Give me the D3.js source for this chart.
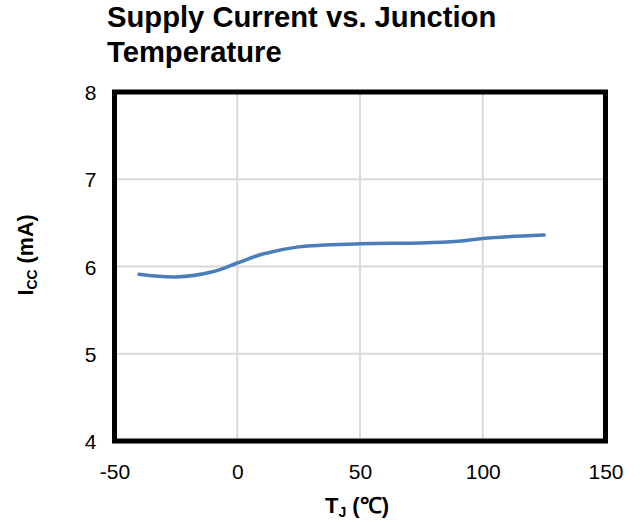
<!DOCTYPE html>
<html>
<head>
<meta charset="utf-8">
<script src="https://cdn.jsdelivr.net/npm/d3@7/dist/d3.min.js"></script>
<style>
  html, body { margin: 0; padding: 0; background: #fff; }
  text { font-family: "Liberation Sans", Arial, sans-serif; fill: #000; }
</style>
</head>
<body>
<svg id="chart" width="640" height="522"></svg>
<script>
const temps = [-40, -25, -10, 0, 10, 25, 50, 75, 90, 100, 110, 125];
const icc   = [5.91, 5.88, 5.94, 6.04, 6.14, 6.225, 6.26, 6.27, 6.29, 6.32, 6.34, 6.36];
const xTicks = [-50, 0, 50, 100, 150];
const yTicks = [4, 5, 6, 7, 8];
const titleLines = ["Supply Current vs. Junction", "Temperature"];

const svg = d3.select("#chart");
const m = { left: 114.5, right: 605.5, top: 92, bottom: 441 };
const x = d3.scaleLinear().domain([-50, 150]).range([m.left, m.right]);
const y = d3.scaleLinear().domain([4, 8]).range([m.bottom, m.top]);
const fmt = d => String(d);

// gridlines
svg.append("g").selectAll("line").data(xTicks.slice(1, -1)).join("line")
  .attr("x1", d => x(d)).attr("x2", d => x(d))
  .attr("y1", m.top).attr("y2", m.bottom)
  .attr("stroke", "#d9d9d9").attr("stroke-width", 2);
svg.append("g").selectAll("line").data(yTicks.slice(1, -1)).join("line")
  .attr("y1", d => y(d)).attr("y2", d => y(d))
  .attr("x1", m.left).attr("x2", m.right)
  .attr("stroke", "#d9d9d9").attr("stroke-width", 2);

// data line
const pts = temps.map((t, i) => [t, icc[i]]);
svg.append("path").datum(pts)
  .attr("fill", "none").attr("stroke", "#4a7ebb").attr("stroke-width", 3.5)
  .attr("stroke-linecap", "round")
  .attr("d", d3.line().x(d => x(d[0])).y(d => y(d[1])).curve(d3.curveCatmullRom.alpha(0.5)));

// border
svg.append("rect")
  .attr("x", m.left).attr("y", m.top)
  .attr("width", m.right - m.left).attr("height", m.bottom - m.top)
  .attr("fill", "none").attr("stroke", "#000").attr("stroke-width", 5);

// x axis labels
const xAxis = d3.axisBottom(x).tickValues(xTicks).tickSize(0).tickPadding(0).tickFormat(fmt);
const gx = svg.append("g").attr("transform", `translate(0,${m.bottom})`).call(xAxis);
gx.select(".domain").remove();
gx.selectAll("text").attr("font-size", 21).attr("dy", null).attr("y", 38)
  .attr("font-family", "Liberation Sans, Arial, sans-serif").attr("fill", "#000");

// y axis labels
const yAxis = d3.axisLeft(y).tickValues(yTicks).tickSize(0).tickPadding(0).tickFormat(fmt);
const gy = svg.append("g").attr("transform", `translate(${m.left},0)`).call(yAxis);
gy.select(".domain").remove();
gy.selectAll("text").attr("font-size", 21).attr("x", -18).attr("dy", "0.36em")
  .attr("font-family", "Liberation Sans, Arial, sans-serif").attr("fill", "#000");

// title
svg.append("g").selectAll("text").data(titleLines).join("text")
  .attr("x", 107).attr("y", (d, i) => 27 + i * 35)
  .attr("font-size", 29.2).attr("font-weight", "bold")
  .text(d => d);

// x axis title
const xt = svg.append("text").attr("x", (m.left + m.right) / 2 - 3).attr("y", 513)
  .attr("text-anchor", "middle").attr("font-size", 22).attr("font-weight", "bold");
xt.append("tspan").text("T");
xt.append("tspan").attr("font-size", 14).attr("dy", 4).text("J");
xt.append("tspan").attr("dy", -4).text(" (℃)");

// y axis title
const yt = svg.append("text").attr("transform", `translate(33,255) rotate(-90)`)
  .attr("text-anchor", "middle").attr("font-size", 21.5).attr("font-weight", "bold");
yt.append("tspan").text("I");
yt.append("tspan").attr("font-size", 14).attr("dy", 4).text("CC");
yt.append("tspan").attr("dy", -4).text(" (mA)");
</script>
</body>
</html>
